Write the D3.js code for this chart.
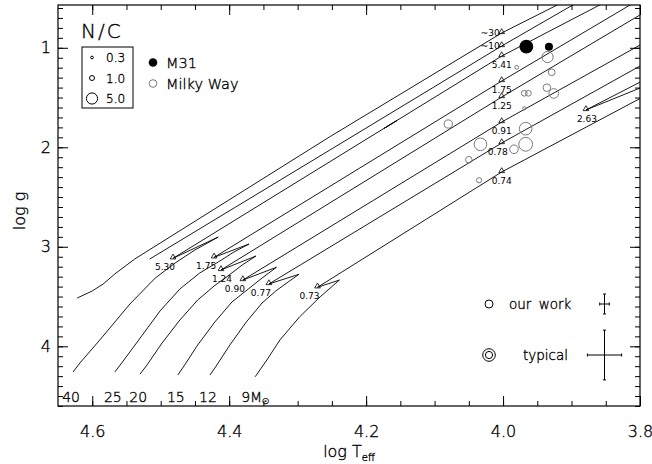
<!DOCTYPE html>
<html>
<head>
<meta charset="utf-8">
<script src="https://cdn.jsdelivr.net/npm/d3@7"></script>
<style>
body { margin: 0; background: #fff; }
text { font-family: "DejaVu Sans", sans-serif; font-weight: 200; fill: #000; stroke: #000; stroke-width: 0.35px; }
text.mark { stroke: none; }
</style>
</head>
<body>
<svg width="652" height="464"></svg>
<script>
// axis ticks
var xTicks = [4.6, 4.4, 4.2, 4.0, 3.8],
    yTicks = [1, 2, 3, 4];

// evolutionary tracks, [log Teff, log g]: ZAMS -> end of MS -> hook -> crossing
var massLabels = ["40", "25", "20", "15", "12", "9"];

var track40 = [[4.628, 4.258], [4.618, 4.168], [4.589, 3.937], [4.545, 3.575], [4.508, 3.314],
  [4.479, 3.163], [4.450, 3.032], [4.416, 2.902], [4.482, 3.116], [4.177, 1.823],
  [4.155, 1.731], [4.174, 1.811], [4.002, 1.083], [3.831, 0.470]];
var track25 = [[4.567, 4.258], [4.557, 4.168], [4.530, 3.917], [4.501, 3.645], [4.472, 3.424],
  [4.443, 3.263], [4.416, 3.153], [4.393, 3.052], [4.371, 2.972], [4.422, 3.106],
  [4.002, 1.334], [3.790, 0.470]];
var track20 = [[4.530, 4.278], [4.520, 4.188], [4.498, 3.967], [4.472, 3.736], [4.446, 3.535],
  [4.422, 3.394], [4.402, 3.294], [4.381, 3.183], [4.361, 3.093], [4.412, 3.233],
  [4.002, 1.495], [3.778, 0.580]];
var track15 = [[4.475, 4.289], [4.465, 4.188], [4.446, 3.987], [4.421, 3.756], [4.396, 3.555],
  [4.372, 3.424], [4.352, 3.314], [4.331, 3.206], [4.380, 3.334], [4.002, 1.746],
  [3.778, 0.888]];
var track12 = [[4.428, 4.289], [4.418, 4.188], [4.399, 3.987], [4.375, 3.756], [4.352, 3.565],
  [4.332, 3.444], [4.314, 3.354], [4.298, 3.276], [4.342, 3.374], [4.002, 1.957],
  [3.778, 1.099]];
var track9 = [[4.362, 4.306], [4.345, 4.138], [4.326, 3.937], [4.297, 3.703], [4.267, 3.502],
  [4.239, 3.334], [4.271, 3.407], [4.002, 2.248], [3.771, 1.404], [3.771, 1.243],
  [3.879, 1.625], [3.771, 1.324]];
var trackHi1 = [[4.622, 3.515], [4.600, 3.444], [4.584, 3.374], [4.567, 3.273], [4.538, 3.123],
  [4.253, 1.894], [4.002, 0.851], [3.892, 0.470]];
var trackHi2 = [[4.516, 3.123], [4.002, 0.982], [3.873, 0.470]];

// N/C marks on the tracks
var loopMarks = [[4.482, 3.116, "5.30"], [4.422, 3.106, "1.75"], [4.412, 3.233, "1.24"],
  [4.380, 3.334, "0.90"], [4.342, 3.374, "0.77"], [4.271, 3.407, "0.73"]];
var crossMarks = [[4.002, 0.851, "~30"], [4.002, 0.982, "~10"], [4.002, 1.083, "5.41"],
  [4.002, 1.334, "1.75"], [4.002, 1.495, "1.25"], [4.002, 1.746, "0.91"],
  [4.002, 1.957, "0.78"], [4.002, 2.248, "0.74"], [3.879, 1.625, "2.63"]];

// stars
var m31T = [3.966, 3.933],
    m31G = [0.989, 0.989],
    m31NC = [7.6, 2.6];
var mwT = [3.935, 3.980, 3.929, 3.969, 3.963, 3.936, 3.926, 3.969, 4.080, 3.967, 4.033, 3.967, 3.984, 4.050, 4.035],
    mwG = [1.093, 1.196, 1.246, 1.457, 1.457, 1.401, 1.459, 1.608, 1.766, 1.813, 1.970, 1.970, 2.020, 2.125, 2.331],
    mwNC = [5.0, 0.58, 1.85, 1.35, 1.35, 2.3, 3.7, 0.41, 2.7, 6.35, 6.35, 7.6, 2.96, 1.74, 1.08];

var legendNC = [0.3, 1.0, 5.0];
var errWork = [0.007, 0.1],
    errTypical = [0.025, 0.25];

var svg = d3.select("svg"),
    width = +svg.attr("width"),
    height = +svg.attr("height"),
    plot = {left: 58, top: 5, right: 640, bottom: 406};

var x = d3.scaleLinear().domain([4.65, 3.8]).range([plot.left, plot.right]),
    y = d3.scaleLinear().domain([0.57, 4.6]).range([plot.top, plot.bottom]),
    r = d3.scaleSqrt().domain([0, 1]).range([0, 2.5]);

svg.append("rect").attr("width", width).attr("height", height).attr("fill", "#fff");

svg.append("clipPath").attr("id", "clip")
  .append("rect")
    .attr("x", plot.left).attr("y", plot.top)
    .attr("width", plot.right - plot.left).attr("height", plot.bottom - plot.top);

var line = d3.line()
    .x(function(d) { return x(d[0]); })
    .y(function(d) { return y(d[1]); });

var g = svg.append("g").attr("clip-path", "url(#clip)");

var tracks = [track40, track25, track20, track15, track12, track9];

g.selectAll("path.track")
    .data([trackHi1, trackHi2].concat(tracks))
  .enter().append("path")
    .attr("class", "track")
    .attr("d", line)
    .attr("fill", "none")
    .attr("stroke", "#000")
    .attr("stroke-width", 0.9);

var tri = d3.symbol().type(d3.symbolTriangle).size(14);
var marks = loopMarks.concat(crossMarks);

g.selectAll("path.mark")
    .data(marks)
  .enter().append("path")
    .attr("class", "mark")
    .attr("d", tri)
    .attr("transform", function(d) { return "translate(" + x(d[0]) + "," + (y(d[1]) - 1) + ")"; })
    .attr("fill", "none")
    .attr("stroke", "#000")
    .attr("stroke-width", 0.8);

var labelDx = {"1.24": 1, "0.78": -4, "2.63": 1};

svg.selectAll("text.mark")
    .data(marks)
  .enter().append("text")
    .attr("class", "mark")
    .attr("font-size", 9)
    .style("font-weight", 400)
    .attr("text-anchor", function(d) { return d[2][0] == "~" ? "end" : "middle"; })
    .attr("x", function(d) {
      if (d[2][0] == "~") return x(d[0]) - 2;
      var dx = loopMarks.indexOf(d) >= 0 ? -8 : 0;
      if (labelDx[d[2]] !== undefined) dx = labelDx[d[2]];
      return x(d[0]) + dx;
    })
    .attr("y", function(d) { return y(d[1]) + (d[2][0] == "~" ? 3 : 12); })
    .text(function(d) { return d[2]; });

// stars
g.selectAll("circle.mw")
    .data(mwT)
  .enter().append("circle")
    .attr("class", "mw")
    .attr("cx", function(d) { return x(d); })
    .attr("cy", function(d, i) { return y(mwG[i]); })
    .attr("r", function(d, i) { return r(mwNC[i]); })
    .attr("fill", "none")
    .attr("stroke", "#7a7a7a")
    .attr("stroke-width", 1);

g.selectAll("circle.m31")
    .data(m31T)
  .enter().append("circle")
    .attr("class", "m31")
    .attr("cx", function(d) { return x(d); })
    .attr("cy", function(d, i) { return y(m31G[i]); })
    .attr("r", function(d, i) { return r(m31NC[i]); })
    .attr("fill", "#000");

// mass labels at the ZAMS end of each track
var massText = svg.append("g").attr("font-size", 14);
tracks.forEach(function(t, i) {
  var last = i == tracks.length - 1;
  var tx = massText.append("text")
      .attr("x", x(t[0][0]) + (last ? -14 : -2))
      .attr("y", 401.5)
      .attr("text-anchor", last ? "start" : "middle")
      .text(massLabels[i]);
  if (last) {
    tx.append("tspan").text("M");
    tx.append("tspan").attr("font-size", 8).attr("dy", 2).text("\u2609");
  }
});

// N/C legend
var leg = svg.append("g");
leg.append("text").attr("x", 81).attr("y", 38).attr("font-size", 20)
    .attr("letter-spacing", 2).text("N/C");
leg.append("rect").attr("x", 82).attr("y", 47).attr("width", 51).attr("height", 61)
    .attr("fill", "none").attr("stroke", "#000").attr("stroke-width", 1);
legendNC.forEach(function(v, i) {
  var cy = 57.5 + i * 20.5;
  leg.append("circle").attr("cx", 92).attr("cy", cy).attr("r", r(v))
      .attr("fill", "none").attr("stroke", "#000").attr("stroke-width", 1);
  leg.append("text").attr("x", 106).attr("y", cy + 4.5).attr("font-size", 12)
      .text(d3.format(".1f")(v));
});

leg.append("circle").attr("cx", 153).attr("cy", 62.5).attr("r", 4.3).attr("fill", "#000");
leg.append("text").attr("x", 166).attr("y", 67.5).attr("font-size", 14.5).text("M31");
leg.append("circle").attr("cx", 153).attr("cy", 83.5).attr("r", 3.8)
    .attr("fill", "none").attr("stroke", "#7a7a7a").attr("stroke-width", 1);
leg.append("text").attr("x", 166).attr("y", 88.5).attr("font-size", 14.5).text("Milky Way");

// error legend
function errorCross(cx, cy, err) {
  var hx = x(4.0) - x(4.0 + err[0]),
      hy = y(1 + err[1]) - y(1),
      e = svg.append("g").attr("stroke", "#000").attr("stroke-width", 1);
  e.append("line").attr("x1", cx - hx).attr("x2", cx + hx).attr("y1", cy).attr("y2", cy);
  e.append("line").attr("x1", cx).attr("x2", cx).attr("y1", cy - hy).attr("y2", cy + hy);
  e.append("line").attr("x1", cx - hx).attr("x2", cx - hx).attr("y1", cy - 1.5).attr("y2", cy + 1.5);
  e.append("line").attr("x1", cx + hx).attr("x2", cx + hx).attr("y1", cy - 1.5).attr("y2", cy + 1.5);
  e.append("line").attr("x1", cx - 1.5).attr("x2", cx + 1.5).attr("y1", cy - hy).attr("y2", cy - hy);
  e.append("line").attr("x1", cx - 1.5).attr("x2", cx + 1.5).attr("y1", cy + hy).attr("y2", cy + hy);
}
errorCross(604.5, 304, errWork);
errorCross(604.5, 355, errTypical);

svg.append("circle").attr("cx", 489).attr("cy", 304).attr("r", 4)
    .attr("fill", "none").attr("stroke", "#000");
svg.append("text").attr("x", 509).attr("y", 309).attr("font-size", 13.5)
    .attr("word-spacing", 3).text("our work");
svg.append("circle").attr("cx", 489).attr("cy", 355).attr("r", 6.3)
    .attr("fill", "none").attr("stroke", "#000");
svg.append("circle").attr("cx", 489).attr("cy", 355).attr("r", 3.6)
    .attr("fill", "none").attr("stroke", "#000");
svg.append("text").attr("x", 523).attr("y", 360).attr("font-size", 13.5).text("typical");

// axes, ticks pointing inward on all four sides
var xMinor = d3.range(3.8, 4.64, 0.05),
    yMinor = d3.range(0.6, 4.61, 0.1);

function styleAxis(sel) {
  sel.select(".domain").remove();
  sel.attr("font-family", null).attr("font-size", 16);
  sel.selectAll("line").attr("stroke", "#000");
}

svg.append("g").attr("transform", "translate(0," + plot.bottom + ")")
    .call(d3.axisBottom(x).tickValues(xTicks).tickSize(-10).tickPadding(20).tickFormat(d3.format(".1f")))
    .call(styleAxis);
svg.append("g").attr("transform", "translate(0," + plot.bottom + ")")
    .call(d3.axisBottom(x).tickValues(xMinor).tickSize(-5).tickFormat(""))
    .call(styleAxis);
svg.append("g").attr("transform", "translate(0," + plot.top + ")")
    .call(d3.axisTop(x).tickValues(xTicks).tickSize(-10).tickFormat(""))
    .call(styleAxis);
svg.append("g").attr("transform", "translate(0," + plot.top + ")")
    .call(d3.axisTop(x).tickValues(xMinor).tickSize(-5).tickFormat(""))
    .call(styleAxis);
svg.append("g").attr("transform", "translate(" + plot.left + ",0)")
    .call(d3.axisLeft(y).tickValues(yTicks).tickSize(-10).tickPadding(7).tickFormat(d3.format("d")))
    .call(styleAxis);
svg.append("g").attr("transform", "translate(" + plot.left + ",0)")
    .call(d3.axisLeft(y).tickValues(yMinor).tickSize(-5).tickFormat(""))
    .call(styleAxis);
svg.append("g").attr("transform", "translate(" + plot.right + ",0)")
    .call(d3.axisRight(y).tickValues(yTicks).tickSize(-10).tickFormat(""))
    .call(styleAxis);
svg.append("g").attr("transform", "translate(" + plot.right + ",0)")
    .call(d3.axisRight(y).tickValues(yMinor).tickSize(-5).tickFormat(""))
    .call(styleAxis);

svg.append("rect")
    .attr("x", plot.left).attr("y", plot.top)
    .attr("width", plot.right - plot.left).attr("height", plot.bottom - plot.top)
    .attr("fill", "none").attr("stroke", "#000").attr("stroke-width", 1.2);

// axis titles
var xt = svg.append("text").attr("x", 349).attr("y", 457).attr("font-size", 16)
    .attr("text-anchor", "middle");
xt.append("tspan").text("log T");
xt.append("tspan").attr("font-size", 10).attr("dy", 4).text("eff");

svg.append("text").attr("transform", "translate(25,211) rotate(-90)")
    .attr("font-size", 16).attr("text-anchor", "middle").text("log g");
</script>
</body>
</html>
